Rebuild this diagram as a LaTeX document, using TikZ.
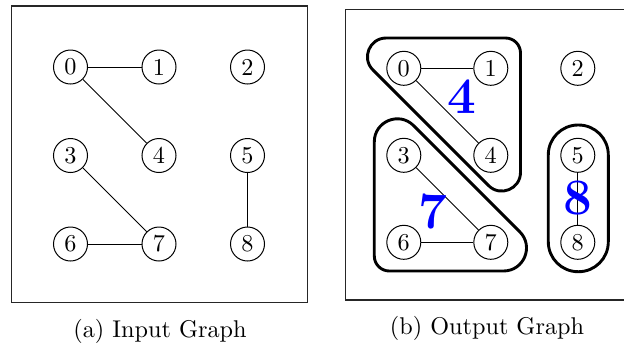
\documentclass[tikz,border=0pt]{standalone}
\usepackage{fontspec}
\begin{document}
\begin{tikzpicture}[x=0.45pt,y=-0.45pt,
  vertex/.style={circle,draw,line width=0.45pt,minimum size=15.3pt,inner sep=0pt,font=\fontsize{10.9}{13}\selectfont},
  edge/.style={line width=0.45pt},
  frame/.style={line width=0.6pt,draw=black!85},
  blob/.style={line width=1.3pt,line join=round},
  count/.style={text=blue,font=\fontsize{23}{23}\selectfont\bfseries,inner sep=0pt},
  caption/.style={font=\fontsize{10.9}{13}\selectfont,inner sep=0pt}]
\useasboundingbox (0,0) rectangle (624,347);
\clip (0,0) rectangle (624,347);

% ---------- (a) input graph ----------
\draw[frame] (11.7,6) rectangle (307.7,302.7);
\foreach \i/\c/\r in {0/0/0,1/1/0,2/2/0,3/0/1,4/1/1,5/2/1,6/0/2,7/1/2,8/2/2}
  \node[vertex] (a\i) at ({70.5+88.5*\c},{67+88.5*\r}) {\i};
\draw[edge] (a0) -- (a1);
\draw[edge] (a0) -- (a4);
\draw[edge] (a3) -- (a7);
\draw[edge] (a6) -- (a7);
\draw[edge] (a5) -- (a8);
\node[caption] (capa) at (160,331) {(a) Input Graph};

% ---------- (b) output graph ----------
\draw[frame] (345.7,9.3) rectangle (640,300);
\foreach \i/\c/\r in {0/0/0,1/1/0,2/2/0,3/0/1,4/1/1,5/2/1,6/0/2,7/1/2,8/2/2}
  \node[vertex] (b\i) at ({403.8+87*\c},{68.3+87*\r}) {\i};
\draw[edge] (b0) -- (b1);
\draw[edge] (b0) -- (b4);
\draw[edge] (b3) -- (b7);
\draw[edge] (b6) -- (b7);
\draw[edge] (b5) -- (b8);

% component {0,1,4}: triangle with filleted corners
\draw[blob] (386.15,38) -- (505.5,38) .. controls (513.8,38) and (520.5,44.7) .. (520.5,53)
  -- (520.5,172.35) .. controls (520.5,189.01) and (500.36,197.36) .. (488.58,185.58)
  -- (372.92,69.92) .. controls (361.14,58.14) and (369.49,38) .. (386.15,38) -- cycle;
% component {3,6,7}
\draw[blob] (374.3,141.83) -- (374.3,256) .. controls (374.3,264.3) and (381,271) .. (389.3,271)
  -- (503.47,271) .. controls (523.96,271) and (534.23,246.23) .. (519.74,231.74)
  -- (413.56,125.56) .. controls (399.07,111.07) and (374.3,121.34) .. (374.3,141.83) -- cycle;
% component {5,8}
\draw[blob,rounded corners=13.4pt] (548.3,125) rectangle (608.3,271.7);

\node[count] (k4) at (462,97) {4};
\node[count] (k7) at (433,212) {7};
\node[count] (k8) at (577.7,198.5) {8};

\node[caption] (capb) at (487,328) {(b) Output Graph};
\end{tikzpicture}
\end{document}
